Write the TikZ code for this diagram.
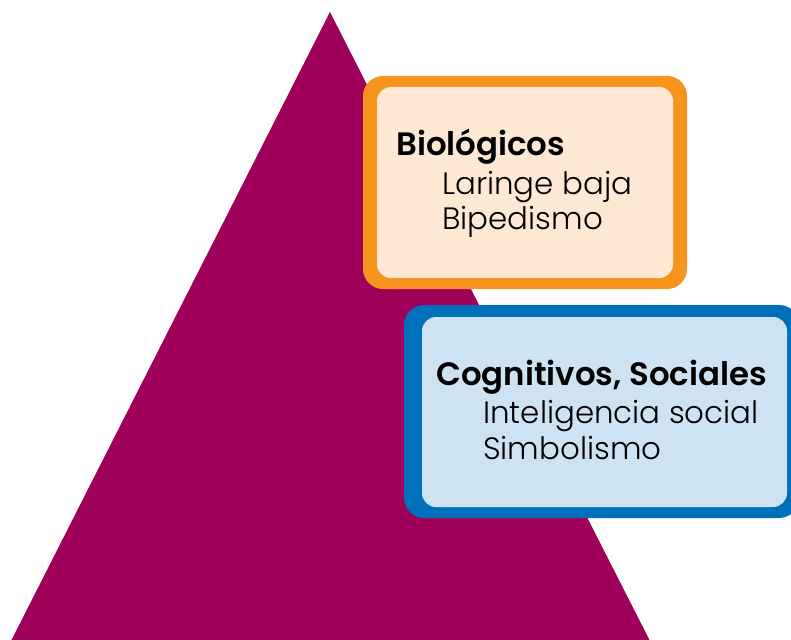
\documentclass[tikz,border=0pt]{standalone}
\usepackage{fontspec}
\setmainfont{Poppins}[UprightFont=* Light, BoldFont=* SemiBold]
\definecolor{berry}{RGB}{158,0,90}
\definecolor{bioline}{RGB}{247,148,30}
\definecolor{biofill}{RGB}{253,232,211}
\definecolor{cogline}{RGB}{0,112,186}
\definecolor{cogfill}{RGB}{205,227,241}
\tikzset{
  boxframe/.style={rounded corners=20bp, inner sep=0pt, outer sep=0pt, anchor=north west},
  boxfill/.style={rounded corners=14bp, inner sep=0pt, outer sep=0pt, anchor=north west},
  heading/.style={anchor=base west, inner sep=0pt, font=\fontsize{32.5}{38}\selectfont\bfseries},
  entry/.style={anchor=base west, inner sep=0pt, font=\fontsize{31}{36}\selectfont},
}
\begin{document}
\begin{tikzpicture}[x=1bp, y=-1bp]
    \clip (0,0) rectangle (791,640);
    \fill[white] (0,0) rectangle (791,640);
    % pyramid
    \fill[berry] (330,12) -- (650,641) -- (11,641) -- cycle;

    \node[boxframe, fill=bioline, minimum width=324bp, minimum height=213bp] (bioframe) at (363,76) {};
    \node[boxfill, fill=biofill, minimum width=296bp, minimum height=191bp] (bioback) at (377,87) {};
    \node[heading] (biotitle) at (396,156) {Biológicos};
    \node[entry] (laringe) at (442,195) {Laringe baja};
    \node[entry] (bipedismo) at (442,230) {Bipedismo};

    \node[boxframe, fill=cogline, minimum width=395bp, minimum height=213bp] (cogframe) at (404,305) {};
    \node[boxfill, fill=cogfill, minimum width=365bp, minimum height=190bp] (cogback) at (422,317) {};
    \node[heading] (cogtitle) at (436,385) {Cognitivos, Sociales};
    \node[entry] (inteligencia) at (483,423) {Inteligencia social};
    \node[entry] (simbolismo) at (483,459) {Simbolismo};
\end{tikzpicture}
\end{document}
